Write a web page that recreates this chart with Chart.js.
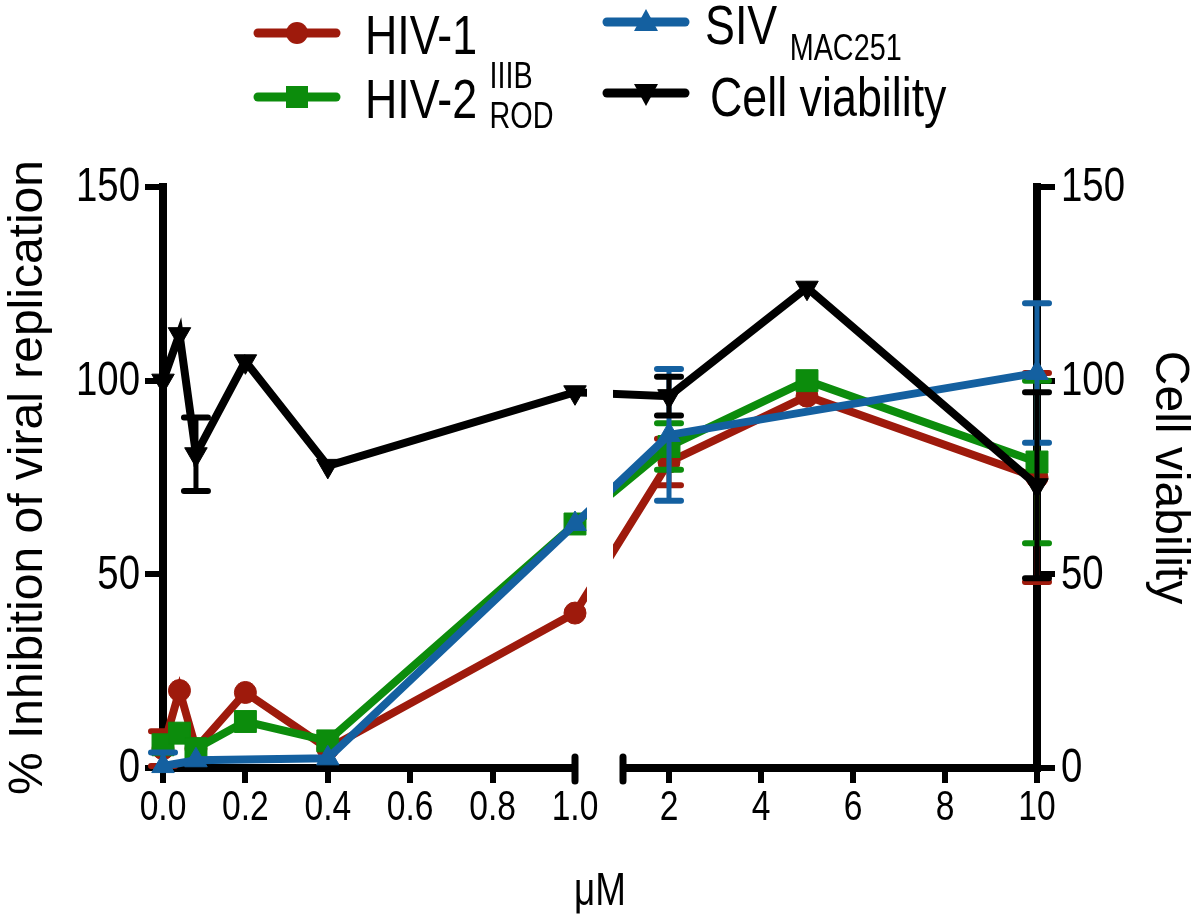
<!DOCTYPE html>
<html><head><meta charset="utf-8">
<script src="https://cdn.jsdelivr.net/npm/chart.js@4/dist/chart.umd.min.js"></script>
<style>html,body{margin:0;padding:0;background:#fff}#wrap{width:1200px;height:920px;position:relative}</style>
</head><body><div id="wrap"><canvas id="c" width="1200" height="920"></canvas></div>
<script>
// ---- data ----
const concentrations = [0, 0.04, 0.08, 0.2, 0.4, 1.0, 2, 5, 10];
const hiv1Values      = [5, 20, 5, 19.5, 5, 40, 79, 96, 75];
const hiv1Errors      = [4.5, 0, 0, 0, 0, 0, 6, 0, 27];
const hiv2Values      = [6, 9, 5, 12, 7, 63, 83, 100, 79];
const hiv2Errors      = [0, 0, 0, 0, 0, 0, 6, 0, 21];
const sivValues       = [0.5, null, 2, null, 2.5, 63, 86, null, 102];
const sivErrors       = [3.5, 0, 0, 0, 0, 0, 17, 0, 18];
const viabilityValues = [100, 112, 81, 105, 78, 97, 96, 124, 73];
const viabilityErrors = [0, 0, 9.5, 0, 0, 0, 5, 0, 24];
const leftTicks  = [0, 0.2, 0.4, 0.6, 0.8, 1.0];
const rightTicks = [2, 4, 6, 8, 10];
const yTicks     = [0, 50, 100, 150];

// ---- broken x-axis mapping ----
const RIGHT_U0 = 1.1165, RIGHT_SCALE = 0.11165;
function toU(x){ return x <= 1 ? x : RIGHT_U0 + (x - 1) * RIGHT_SCALE; }
const xTickValues = leftTicks.map(toU).concat(rightTicks.map(toU));
const xTickLabels = leftTicks.map(v => v.toFixed(1)).concat(rightTicks.map(String));

const SANS = '"Liberation Sans", Arial, sans-serif';
const SQUEEZE = 0.8;

const RED = 'rgb(158,26,12)', GREEN = 'rgb(12,140,12)', BLUE = 'rgb(20,96,160)', BLACK = '#000';

function pts(vals){ return concentrations.map((c,i)=>({x:toU(c), y:vals[i]})).filter((p,i)=>vals[i]!=null); }
function errs(vals, e){ return e.filter((v,i)=>vals[i]!=null); }

function narrowText(ctx, text, x, y, size, align, baseline){
  ctx.save();
  ctx.font = size + 'px ' + SANS;
  ctx.textAlign = align; ctx.textBaseline = baseline; ctx.fillStyle = '#000';
  ctx.translate(x, y); ctx.scale(SQUEEZE, 1);
  ctx.fillText(text, 0, 0);
  const w = ctx.measureText(text).width * SQUEEZE;
  ctx.restore();
  return w;
}

const errorBarPlugin = {
  id:'errorBars',
  beforeDatasetDraw(chart, args){
    const ds = chart.data.datasets[args.index];
    const meta = args.meta;
    if(!ds.errors) return;
    const ys = chart.scales[ds.yAxisID];
    const ctx = chart.ctx;
    ctx.save();
    ctx.strokeStyle = ds.borderColor;
    ds.errors.forEach((e,i)=>{
      if(!e) return;
      const el = meta.data[i];
      const v = ds.data[i].y;
      const lo = Math.max(v - e, ys.min);
      const x = el.x, y1 = ys.getPixelForValue(v+e), y2 = ys.getPixelForValue(lo);
      ctx.lineWidth = 5; ctx.lineCap='butt';
      ctx.beginPath(); ctx.moveTo(x,y1); ctx.lineTo(x,y2); ctx.stroke();
      ctx.lineWidth = 6; ctx.lineCap='round';
      ctx.beginPath(); ctx.moveTo(x-12,y1); ctx.lineTo(x+12,y1);
      if(v - e >= ys.min){ ctx.moveTo(x-12,y2); ctx.lineTo(x+12,y2); }
      ctx.stroke();
    });
    ctx.restore();
  }
};

const axisPlugin = {
  id:'brokenAxis',
  beforeDatasetsDraw(chart){
    const {ctx, chartArea:a, scales:{x}} = chart;
    const p1 = x.getPixelForValue(1), p2 = x.getPixelForValue(RIGHT_U0);
    ctx.save();
    ctx.strokeStyle='#000'; ctx.lineWidth=8; ctx.lineCap='butt';
    ctx.beginPath(); ctx.moveTo(a.left-4,a.bottom); ctx.lineTo(p1,a.bottom);
    ctx.moveTo(p2,a.bottom); ctx.lineTo(a.right+4,a.bottom); ctx.stroke();
    ctx.lineWidth=7; ctx.lineCap='round';
    ctx.beginPath(); ctx.moveTo(p1,a.bottom-11); ctx.lineTo(p1,a.bottom+13);
    ctx.moveTo(p2,a.bottom-11); ctx.lineTo(p2,a.bottom+13); ctx.stroke();
    ctx.restore();
  },
  afterDatasetsDraw(chart){
    const {ctx, chartArea:a, scales:{x}} = chart;
    const p1 = x.getPixelForValue(1)+12, p2 = x.getPixelForValue(RIGHT_U0)-10;
    ctx.save(); ctx.fillStyle='#fff';
    ctx.fillRect(p1, 0, p2-p1, a.bottom-6);
    ctx.restore();
  },
  afterDraw(chart){
    const {ctx, chartArea:a, scales} = chart;
    // x tick labels
    scales.x.ticks.forEach((t,i)=>{
      narrowText(ctx, xTickLabels[i], scales.x.getPixelForValue(t.value), a.bottom+19, 42, 'center', 'top');
    });
    // y tick labels (left and right)
    yTicks.forEach(v=>{
      narrowText(ctx, String(v), a.left-23, scales.y.getPixelForValue(v)+1, 48, 'right', 'middle');
      narrowText(ctx, String(v), a.right+24, scales.y2.getPixelForValue(v)+1, 48, 'left', 'middle');
    });
    // x axis title
    narrowText(ctx, 'μM', (a.left+a.right)/2, 905, 46, 'center', 'alphabetic');
  }
};

function drawMarker(ctx, style, x, y, color){
  ctx.fillStyle=color;
  ctx.beginPath();
  if(style==='circle'){ ctx.arc(x,y,11,0,Math.PI*2); }
  else if(style==='rect'){ ctx.rect(x-11,y-11,22,22); }
  else if(style==='up'){ ctx.moveTo(x,y-13); ctx.lineTo(x+12,y+9); ctx.lineTo(x-12,y+9); ctx.closePath(); }
  else { ctx.moveTo(x,y+13); ctx.lineTo(x+12,y-9); ctx.lineTo(x-12,y-9); ctx.closePath(); }
  ctx.fill();
}

const legendItems = [
  {main:'HIV-1', sub:'IIIB', color:RED, marker:'circle', lx:258, ly:33, tx:365, base:54, subBase:88},
  {main:'HIV-2', sub:'ROD', color:GREEN, marker:'rect', lx:258, ly:97, tx:365, base:118, subBase:128},
  {main:'SIV', sub:'MAC251', color:BLUE, marker:'up', lx:607, ly:22, tx:705, base:44, subBase:60},
  {main:'Cell viability', sub:'', color:BLACK, marker:'down', lx:607, ly:93, tx:710, base:116, subBase:0}
];
const legendPlugin = {
  id:'subLegend',
  afterDraw(chart){
    const ctx = chart.ctx;
    legendItems.forEach(it=>{
      ctx.save();
      ctx.strokeStyle=it.color; ctx.lineWidth=9; ctx.lineCap='round';
      ctx.beginPath(); ctx.moveTo(it.lx,it.ly); ctx.lineTo(it.lx+78,it.ly); ctx.stroke();
      drawMarker(ctx, it.marker, it.lx+39, it.ly, it.color);
      ctx.restore();
      const w = narrowText(ctx, it.main + ' ', it.tx, it.base, 56, 'left', 'alphabetic');
      if(it.sub) narrowText(ctx, it.sub, it.tx + w, it.subBase, 36, 'left', 'alphabetic');
    });
  }
};

function makeDs(label, vals, e, color, style, rot, radius, order, axis){
  return {label, data:pts(vals), errors:errs(vals,e), borderColor:color, backgroundColor:color,
    borderWidth:8, pointStyle:style, pointRotation:rot, pointRadius:radius, pointHoverRadius:radius,
    pointBorderWidth:1, pointBorderColor:color, pointBackgroundColor:color,
    tension:0, clip:false, order, yAxisID:axis, borderJoinStyle:'miter'};
}

new Chart(document.getElementById('c'), {
  type:'line',
  data:{ datasets:[
    makeDs('HIV-1 IIIB', hiv1Values, hiv1Errors, RED, 'circle', 0, 11, 3, 'y'),
    makeDs('HIV-2 ROD', hiv2Values, hiv2Errors, GREEN, 'rect', 0, 15.5, 2, 'y'),
    makeDs('SIV MAC251', sivValues, sivErrors, BLUE, 'triangle', 0, 13, 1, 'y'),
    makeDs('Cell viability', viabilityValues, viabilityErrors, BLACK, 'triangle', 180, 13, 0, 'y2')
  ]},
  options:{
    responsive:false, animation:false, devicePixelRatio:1,
    layout:{padding:{top:187, left:0, right:0, bottom:0}},
    plugins:{legend:{display:false}, tooltip:{enabled:false}},
    scales:{
      x:{ type:'linear', min:0, max:toU(10),
        afterBuildTicks(s){ s.ticks = xTickValues.map(v=>({value:v})); },
        afterFit(s){ s.height = 152; },
        ticks:{ display:false, autoSkip:false, maxRotation:0 },
        grid:{ drawOnChartArea:false, drawTicks:true, tickLength:15, lineWidth:6, color:'#000' },
        border:{ display:false },
        title:{ display:false }
      },
      y:{ position:'left', min:0, max:150,
        afterBuildTicks(s){ s.ticks = yTicks.map(v=>({value:v})); },
        afterFit(s){ s.width = 163; },
        ticks:{ display:false },
        grid:{ drawOnChartArea:false, drawTicks:true, tickLength:18, lineWidth:6, color:'#000' },
        border:{ display:true, width:8, color:'#000' },
        title:{ display:true, text:'% Inhibition of viral replication', color:'#000', font:{family:SANS, size:48}, padding:{top:0,bottom:0} }
      },
      y2:{ position:'right', min:0, max:150,
        afterBuildTicks(s){ s.ticks = yTicks.map(v=>({value:v})); },
        afterFit(s){ s.width = 163; },
        ticks:{ display:false },
        grid:{ drawOnChartArea:false, drawTicks:true, tickLength:18, lineWidth:6, color:'#000' },
        border:{ display:true, width:8, color:'#000' },
        title:{ display:true, text:'Cell viability', color:'#000', font:{family:SANS, size:48}, padding:{top:2,bottom:0} }
      }
    }
  },
  plugins:[errorBarPlugin, axisPlugin, legendPlugin]
});
</script>
</body></html>
